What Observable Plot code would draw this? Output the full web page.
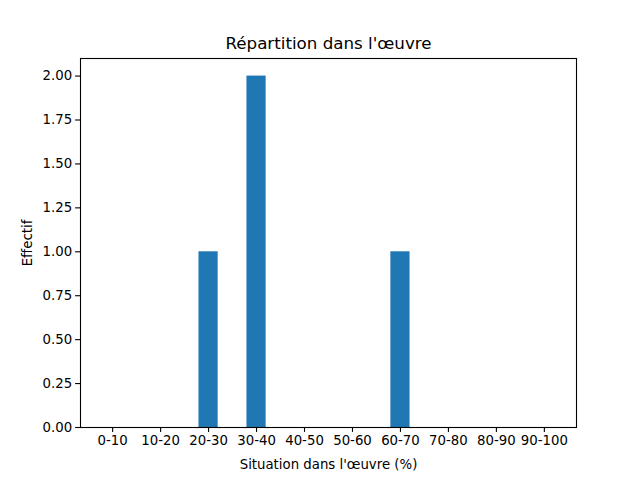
<!DOCTYPE html>
<html>
<head>
<meta charset="utf-8">
<script src="https://cdn.jsdelivr.net/npm/d3@7"></script>
<script src="https://cdn.jsdelivr.net/npm/@observablehq/plot@0.6"></script>
<style>
  html, body { margin: 0; padding: 0; background: #fff; }
  svg { font-family: "DejaVu Sans", sans-serif; }
</style>
</head>
<body>
<div id="chart"></div>
<script>
const categories = ["0-10","10-20","20-30","30-40","40-50","50-60","60-70","70-80","80-90","90-100"];
const counts = [0, 0, 1, 2, 0, 0, 1, 0, 0, 0];
const yTicks = [0, 0.25, 0.5, 0.75, 1.0, 1.25, 1.5, 1.75, 2.0];
const titleText = "Répartition dans l'œuvre";
const xLabel = "Situation dans l'œuvre (%)";
const yLabel = "Effectif";

const data = categories.map((c, i) => ({i, c, v: counts[i]}));
const barW = 0.4;

const chart = Plot.plot({
  width: 640,
  height: 480,
  marginLeft: 80,
  marginRight: 64,
  marginTop: 58,
  marginBottom: 53,
  style: {fontFamily: "DejaVu Sans, sans-serif", fontSize: "13.3px", color: "black", background: "white"},
  x: {type: "linear", domain: [-0.2 - 0.47, 9.2 + 0.47]},
  y: {type: "linear", domain: [0, 2.1]},
  marks: [
    Plot.rectY(data, {x1: d => d.i - barW/2, x2: d => d.i + barW/2, y1: 0, y2: "v", fill: "#1f77b4"}),
    Plot.axisX({ticks: categories.map((c, i) => i), tickFormat: i => categories[i], tickSize: 4.9, tickPadding: 3.5, label: null, stroke: "black", strokeWidth: 1.1, strokeOpacity: 1, fontSize: 13.3}),
    Plot.axisY({ticks: yTicks, tickFormat: d => d.toFixed(2), tickSize: 4.9, tickPadding: 3.5, label: null, stroke: "black", strokeWidth: 1.1, strokeOpacity: 1, fontSize: 13.3}),
    Plot.frame({stroke: "black", strokeWidth: 1.1}),
    Plot.text([titleText], {frameAnchor: "top", dy: -15, lineAnchor: "middle", fontSize: 16.7, fill: "black"}),
    Plot.text([xLabel], {frameAnchor: "bottom", dy: 37, lineAnchor: "middle", fontSize: 13.3, fill: "black"}),
    Plot.text([yLabel], {frameAnchor: "left", dx: -53, rotate: -90, textAnchor: "middle", lineAnchor: "middle", fontSize: 13.3, fill: "black"})
  ]
});
document.getElementById("chart").appendChild(chart);
</script>
</body>
</html>
